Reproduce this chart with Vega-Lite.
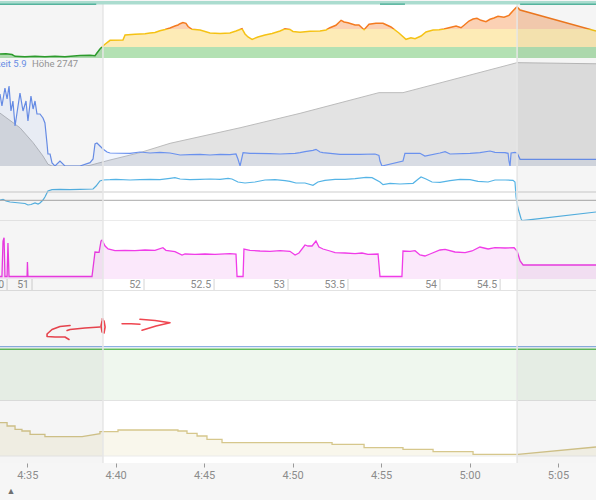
{
"$schema": "https://vega.github.io/schema/vega-lite/v6.json",
"background": "#f6f6f6",
"padding": 0,
"spacing": 0,
"bounds": "flush",
"config": {"view": {"stroke": null, "fill": "white"}, "font": "Roboto", "text": {"font": "Roboto"}},
"datasets": {
"shade": [{"t":33.46,"t2":39.28},{"t":62.69,"t2":67.15}],
"edges": [{"t":39.28},{"t":62.69}],
"tabs": [{"t":33.46,"t2":38.9},{"t":54.94,"t2":56.35},{"t":62.86,"t2":67.15}],
"hr": [
{"t":33.46,"bpm":109.6},{"t":33.8,"bpm":110.0},{"t":34.14,"bpm":108.9},{"t":34.31,"bpm":106.4},{"t":34.87,"bpm":105.8},{"t":35.44,"bpm":106.4},{"t":36.0,"bpm":105.8},{"t":36.57,"bpm":106.4},{"t":37.13,"bpm":105.8},{"t":37.98,"bpm":107.5},{"t":38.55,"bpm":107.8},{"t":38.83,"bpm":107.1},{"t":38.94,"bpm":111.0},{"t":39.11,"bpm":116.6},{"t":39.34,"bpm":122.2},{"t":39.68,"bpm":128.8},{"t":40.41,"bpm":129.3},{"t":40.53,"bpm":136.3},{"t":41.09,"bpm":137.3},{"t":41.66,"bpm":138.1},{"t":41.94,"bpm":139.1},{"t":42.22,"bpm":139.8},{"t":42.5,"bpm":142.3},{"t":42.79,"bpm":144.0},{"t":43.07,"bpm":146.1},{"t":43.35,"bpm":148.9},{"t":43.52,"bpm":150.3},{"t":43.64,"bpm":152.1},{"t":43.8,"bpm":153.8},{"t":43.97,"bpm":152.7},{"t":44.09,"bpm":148.2},{"t":44.31,"bpm":144.3},{"t":44.77,"bpm":143.3},{"t":45.33,"bpm":139.1},{"t":45.9,"bpm":138.4},{"t":46.46,"bpm":139.1},{"t":46.8,"bpm":141.9},{"t":47.14,"bpm":145.1},{"t":47.31,"bpm":137.7},{"t":47.48,"bpm":133.5},{"t":47.71,"bpm":130.2},{"t":48.04,"bpm":133.5},{"t":48.44,"bpm":136.3},{"t":48.84,"bpm":138.4},{"t":49.29,"bpm":141.9},{"t":49.57,"bpm":145.1},{"t":49.85,"bpm":144.0},{"t":50.02,"bpm":141.2},{"t":50.42,"bpm":140.1},{"t":50.98,"bpm":141.5},{"t":51.55,"bpm":141.9},{"t":51.89,"bpm":143.3},{"t":52.11,"bpm":146.5},{"t":52.45,"bpm":149.9},{"t":52.74,"bpm":156.9},{"t":52.91,"bpm":154.5},{"t":53.13,"bpm":153.5},{"t":53.53,"bpm":150.3},{"t":53.75,"bpm":150.3},{"t":54.04,"bpm":143.7},{"t":54.32,"bpm":151.3},{"t":54.71,"bpm":152.7},{"t":55.11,"bpm":152.7},{"t":55.56,"bpm":147.5},{"t":56.01,"bpm":139.1},{"t":56.41,"bpm":130.2},{"t":56.69,"bpm":132.5},{"t":56.92,"bpm":131.1},{"t":57.26,"bpm":134.9},{"t":57.54,"bpm":140.5},{"t":57.94,"bpm":143.3},{"t":58.28,"bpm":143.7},{"t":58.56,"bpm":144.7},{"t":58.84,"bpm":146.5},{"t":59.24,"bpm":148.9},{"t":59.52,"bpm":146.5},{"t":59.69,"bpm":149.9},{"t":59.97,"bpm":155.9},{"t":60.2,"bpm":158.7},{"t":60.42,"bpm":159.7},{"t":60.65,"bpm":156.9},{"t":60.93,"bpm":154.9},{"t":61.16,"bpm":158.3},{"t":61.38,"bpm":160.1},{"t":61.61,"bpm":162.5},{"t":61.95,"bpm":161.1},{"t":62.23,"bpm":163.9},{"t":62.46,"bpm":170.4},{"t":62.63,"bpm":174.6},{"t":62.69,"bpm":175.6},{"t":62.86,"bpm":171.4},{"t":67.15,"bpm":141.9}
],
"spd": [
{"t":33.46,"s":21.6},{"t":33.57,"s":18.0},{"t":33.74,"s":23.4},{"t":33.86,"s":20.1},{"t":33.97,"s":24.0},{"t":34.08,"s":16.5},{"t":34.19,"s":19.5},{"t":34.31,"s":12.0},{"t":34.42,"s":15.9},{"t":34.59,"s":21.9},{"t":34.76,"s":16.5},{"t":34.93,"s":19.5},{"t":35.04,"s":13.5},{"t":35.21,"s":21.0},{"t":35.33,"s":17.1},{"t":35.44,"s":19.5},{"t":35.55,"s":15.6},{"t":35.72,"s":15.6},{"t":35.89,"s":14.4},{"t":36.0,"s":12.9},{"t":36.12,"s":6.6},{"t":36.17,"s":3.6},{"t":36.29,"s":3.6},{"t":36.4,"s":0.9},{"t":36.57,"s":0},{"t":36.85,"s":1.5},{"t":37.13,"s":0},{"t":37.98,"s":0},{"t":38.55,"s":1.0},{"t":38.72,"s":2.1},{"t":38.83,"s":6.6},{"t":38.94,"s":6.9},{"t":39.11,"s":6.0},{"t":39.28,"s":5.1},{"t":39.51,"s":4.2},{"t":39.68,"s":3.9},{"t":40.81,"s":3.8},{"t":41.37,"s":4.2},{"t":41.94,"s":3.9},{"t":42.5,"s":4.1},{"t":43.07,"s":3.9},{"t":43.64,"s":3.3},{"t":44.2,"s":3.4},{"t":44.77,"s":3.5},{"t":45.33,"s":3.3},{"t":45.9,"s":3.5},{"t":46.46,"s":3.4},{"t":46.8,"s":3.6},{"t":46.91,"s":2.1},{"t":47.03,"s":0},{"t":47.2,"s":4.0},{"t":47.59,"s":3.8},{"t":48.72,"s":3.7},{"t":49.29,"s":3.6},{"t":50.14,"s":3.8},{"t":50.42,"s":4.0},{"t":50.7,"s":4.3},{"t":51.15,"s":4.7},{"t":51.32,"s":5.0},{"t":51.55,"s":4.2},{"t":51.72,"s":4.0},{"t":52.68,"s":3.5},{"t":53.81,"s":3.5},{"t":54.66,"s":3.6},{"t":54.88,"s":3.2},{"t":54.94,"s":1.5},{"t":55.05,"s":0},{"t":56.24,"s":1.5},{"t":56.35,"s":3.8},{"t":57.2,"s":3.8},{"t":57.48,"s":3.0},{"t":58.33,"s":3.9},{"t":58.62,"s":4.3},{"t":58.9,"s":3.6},{"t":60.03,"s":3.8},{"t":60.59,"s":4.0},{"t":61.16,"s":4.5},{"t":61.44,"s":4.1},{"t":62.01,"s":4.0},{"t":62.18,"s":3.8},{"t":62.23,"s":1.5},{"t":62.29,"s":0},{"t":62.35,"s":3.9},{"t":62.57,"s":4.1},{"t":62.69,"s":3.9},{"t":62.86,"s":2.0},{"t":67.15,"s":2.0}
],
"ele": [
{"t":33.46,"e":2518},{"t":34.59,"e":2452},{"t":35.33,"e":2385},{"t":35.89,"e":2325},{"t":36.17,"e":2288},{"t":36.4,"e":2280},{"t":38.26,"e":2280},{"t":38.55,"e":2283},{"t":39.11,"e":2295},{"t":39.68,"e":2307},{"t":41.37,"e":2340},{"t":43.07,"e":2382},{"t":47.03,"e":2452},{"t":50.42,"e":2517},{"t":54.88,"e":2610},{"t":56.24,"e":2610},{"t":62.69,"e":2745},{"t":67.15,"e":2740}
],
"cad": [
{"t":33.46,"v":42},{"t":33.63,"v":43.4},{"t":33.8,"v":40},{"t":34.03,"v":38},{"t":34.31,"v":37},{"t":34.59,"v":36},{"t":34.87,"v":35},{"t":35.04,"v":32},{"t":35.21,"v":33},{"t":35.44,"v":36},{"t":35.61,"v":34},{"t":35.72,"v":36},{"t":35.89,"v":42},{"t":36.0,"v":48},{"t":36.17,"v":60},{"t":36.4,"v":62.6},{"t":36.85,"v":63.4},{"t":37.42,"v":62.6},{"t":37.98,"v":63.4},{"t":38.72,"v":64},{"t":38.89,"v":70},{"t":39.11,"v":80},{"t":39.28,"v":82},{"t":39.68,"v":82.6},{"t":40.02,"v":83.4},{"t":40.81,"v":82},{"t":41.37,"v":82.6},{"t":41.94,"v":83.4},{"t":42.5,"v":82.6},{"t":43.07,"v":85.4},{"t":43.35,"v":86.6},{"t":43.64,"v":84},{"t":44.2,"v":82.6},{"t":44.77,"v":83.4},{"t":45.33,"v":84},{"t":45.9,"v":83.4},{"t":46.35,"v":85.4},{"t":46.57,"v":84},{"t":46.91,"v":78},{"t":47.31,"v":76},{"t":47.87,"v":78},{"t":48.44,"v":82},{"t":49.01,"v":82.6},{"t":49.57,"v":80.6},{"t":49.85,"v":79.4},{"t":50.19,"v":76},{"t":50.7,"v":76},{"t":51.15,"v":71.4},{"t":51.43,"v":78},{"t":51.83,"v":81.4},{"t":52.4,"v":83.4},{"t":52.96,"v":83.4},{"t":53.53,"v":84.6},{"t":54.15,"v":87.4},{"t":54.49,"v":86.6},{"t":54.94,"v":78},{"t":55.11,"v":72.6},{"t":55.51,"v":75.4},{"t":56.07,"v":74},{"t":56.81,"v":75.4},{"t":57.09,"v":83.4},{"t":57.26,"v":88},{"t":57.54,"v":84},{"t":57.88,"v":78},{"t":58.33,"v":77.4},{"t":58.9,"v":80.6},{"t":59.46,"v":83.4},{"t":60.03,"v":82.6},{"t":60.48,"v":79.4},{"t":61.05,"v":78},{"t":61.44,"v":82},{"t":62.01,"v":82},{"t":62.46,"v":81.4},{"t":62.57,"v":78},{"t":62.63,"v":48},{"t":62.74,"v":26},{"t":62.91,"v":5},{"t":62.97,"v":0.6},{"t":67.15,"v":18}
],
"pow": [
{"t":33.46,"p":0},{"t":33.57,"p":0},{"t":33.63,"p":177.5},{"t":33.69,"p":194},{"t":33.74,"p":0},{"t":33.86,"p":0},{"t":33.91,"p":167.5},{"t":33.97,"p":0},{"t":34.99,"p":0},{"t":35.01,"p":72.5},{"t":35.04,"p":0},{"t":38.66,"p":0},{"t":38.83,"p":122.5},{"t":39.06,"p":121},{"t":39.17,"p":177.5},{"t":39.23,"p":182.5},{"t":39.4,"p":152.5},{"t":39.57,"p":137.5},{"t":39.96,"p":129},{"t":40.53,"p":131},{"t":41.09,"p":129},{"t":41.66,"p":132.5},{"t":42.22,"p":131},{"t":42.67,"p":144},{"t":42.84,"p":131},{"t":43.35,"p":124},{"t":43.75,"p":107.5},{"t":43.92,"p":112.5},{"t":44.48,"p":111},{"t":45.05,"p":112.5},{"t":45.61,"p":111},{"t":46.46,"p":114},{"t":46.8,"p":112.5},{"t":46.86,"p":0},{"t":47.2,"p":0},{"t":47.25,"p":137.5},{"t":47.59,"p":131},{"t":48.16,"p":127.5},{"t":48.72,"p":126},{"t":49.29,"p":129},{"t":49.85,"p":126},{"t":50.14,"p":107.5},{"t":50.36,"p":117.5},{"t":50.7,"p":157.5},{"t":50.87,"p":152.5},{"t":51.1,"p":152.5},{"t":51.32,"p":177.5},{"t":51.49,"p":147.5},{"t":51.72,"p":137.5},{"t":52.11,"p":127.5},{"t":52.4,"p":119},{"t":52.96,"p":117.5},{"t":53.53,"p":114},{"t":53.92,"p":117.5},{"t":54.26,"p":111},{"t":54.83,"p":112.5},{"t":54.94,"p":0},{"t":56.18,"p":0},{"t":56.24,"p":127.5},{"t":56.64,"p":126},{"t":56.92,"p":129},{"t":57.2,"p":107.5},{"t":57.48,"p":102.5},{"t":57.77,"p":112.5},{"t":58.33,"p":132.5},{"t":58.62,"p":136},{"t":59.18,"p":122.5},{"t":59.75,"p":119},{"t":60.14,"p":127.5},{"t":60.59,"p":147.5},{"t":61.05,"p":137.5},{"t":61.44,"p":144},{"t":62.01,"p":142.5},{"t":62.52,"p":144},{"t":62.69,"p":127.5},{"t":62.86,"p":77.5},{"t":63.03,"p":57.5},{"t":67.15,"p":57.5}
],
"dist": [
{"t":33.86,"km":"50"},{"t":35.27,"km":"51"},{"t":41.6,"km":"52"},{"t":45.56,"km":"52.5"},{"t":49.74,"km":"53"},{"t":53.13,"km":"53.5"},{"t":58.33,"km":"54"},{"t":61.73,"km":"54.5"}
],
"scrib": [
{"s":1,"i":1,"t":39.11,"v":19},{"s":1,"i":2,"t":38.26,"v":18},{"s":1,"i":3,"t":37.42,"v":16.5},{"s":1,"i":4,"t":37.25,"v":15.5},
{"s":2,"i":1,"t":37.42,"v":20.5},{"s":2,"i":2,"t":36.85,"v":19.5},{"s":2,"i":3,"t":36.4,"v":16.5},{"s":2,"i":4,"t":36.12,"v":12},{"s":2,"i":5,"t":36.12,"v":9.5},{"s":2,"i":6,"t":36.57,"v":9},{"s":2,"i":7,"t":37.13,"v":9},{"s":2,"i":8,"t":37.36,"v":6.5},
{"s":3,"i":1,"t":39.23,"v":27},{"s":3,"i":2,"t":39.34,"v":25},{"s":3,"i":3,"t":39.4,"v":19},{"s":3,"i":4,"t":39.34,"v":13},{"s":3,"i":5,"t":39.23,"v":14},{"s":3,"i":6,"t":39.17,"v":20},{"s":3,"i":7,"t":39.23,"v":25},{"s":3,"i":8,"t":39.28,"v":27},
{"s":4,"i":1,"t":40.36,"v":22.3},{"s":4,"i":2,"t":40.87,"v":22.3},{"s":4,"i":3,"t":41.37,"v":21.7},
{"s":5,"i":1,"t":41.37,"v":26.7},{"s":5,"i":2,"t":42.22,"v":25.5},{"s":5,"i":3,"t":43.07,"v":23.3},{"s":5,"i":4,"t":42.28,"v":20},{"s":5,"i":5,"t":41.49,"v":15.7}
],
"temp": [
{"t":33.46,"T":6.66},{"t":33.86,"T":6.66},{"t":33.86,"T":6.0},{"t":34.31,"T":6.0},{"t":34.31,"T":5.34},{"t":34.7,"T":5.34},{"t":34.7,"T":5.0},{"t":35.16,"T":5.0},{"t":35.16,"T":4.34},{"t":36.0,"T":4.34},{"t":36.0,"T":3.86},{"t":38.1,"T":3.86},{"t":39.11,"T":4.46},{"t":39.11,"T":4.86},{"t":40.13,"T":4.86},{"t":40.13,"T":5.2},{"t":43.52,"T":5.2},{"t":43.52,"T":5.0},{"t":44.03,"T":5.0},{"t":44.03,"T":4.54},{"t":44.6,"T":4.54},{"t":44.6,"T":4.0},{"t":45.16,"T":4.0},{"t":45.16,"T":3.34},{"t":46.01,"T":3.34},{"t":46.01,"T":2.66},{"t":52.23,"T":2.66},{"t":52.23,"T":2.34},{"t":54.04,"T":2.34},{"t":54.04,"T":1.66},{"t":56.24,"T":1.66},{"t":56.24,"T":1.34},{"t":57.94,"T":1.34},{"t":57.94,"T":0.86},{"t":60.2,"T":0.86},{"t":60.2,"T":0.34},{"t":62.74,"T":0.34},{"t":67.15,"T":1.8}
]
},
"vconcat": [
{
"width": 596, "height": 57,
"layer": [
{"data": {"name": "hr"}, "mark": {"type": "area", "clip": true, "fill": {"gradient": "linear", "x1": 0, "x2": 0, "y1": 0, "y2": 1, "stops": [{"offset": 0, "color": "#fbd1b4"}, {"offset": 0.4255, "color": "#fbd1b4"}, {"offset": 0.4255, "color": "#fdebb6"}, {"offset": 0.778, "color": "#fdebb6"}, {"offset": 0.778, "color": "#b3e1b3"}, {"offset": 1, "color": "#b3e1b3"}]}}, "encoding": {"x": {"field": "t", "type": "quantitative", "scale": {"domain": [33.46, 67.15], "nice": false, "zero": false}, "axis": null}, "y": {"field": "bpm", "type": "quantitative", "scale": {"domain": [104, 184], "nice": false, "zero": false}, "axis": null}, "y2": {"datum": 104}}},
{"data": {"name": "hr"}, "mark": {"type": "line", "clip": true, "strokeWidth": 1.5, "stroke": {"gradient": "linear", "x1": 0, "x2": 0, "y1": 0, "y2": 1, "stops": [{"offset": 0, "color": "#f47b20"}, {"offset": 0.437, "color": "#f47b20"}, {"offset": 0.437, "color": "#f5c214"}, {"offset": 0.799, "color": "#f5c214"}, {"offset": 0.799, "color": "#2ea12e"}, {"offset": 1, "color": "#2ea12e"}]}}, "encoding": {"x": {"field": "t", "type": "quantitative"}, "y": {"field": "bpm", "type": "quantitative"}}},
{"data": {"name": "shade"}, "mark": {"type": "rect", "fill": "#000000", "fillOpacity": 0.04}, "encoding": {"x": {"field": "t", "type": "quantitative"}, "x2": {"field": "t2"}, "y": {"datum": 184}, "y2": {"datum": 104}}},
{"data": {"name": "edges"}, "mark": {"type": "rule", "color": "#e6e6e6", "strokeWidth": 1.5}, "encoding": {"x": {"field": "t", "type": "quantitative"}, "y": {"datum": 184}, "y2": {"datum": 104}}},
{"data": {"values": [{"t": 33.46, "t2": 67.15}]}, "mark": {"type": "rect", "fill": "#abdccf"}, "encoding": {"x": {"field": "t", "type": "quantitative"}, "x2": {"field": "t2"}, "y": {"datum": 184}, "y2": {"datum": 179.1}}},
{"data": {"name": "tabs"}, "mark": {"type": "rule", "clip": true, "color": "#55b39d", "strokeWidth": 1.5}, "encoding": {"x": {"field": "t", "type": "quantitative"}, "x2": {"field": "t2"}, "y": {"datum": 179.6}}}
]
},
{
"width": 596, "height": 108,
"layer": [
{"layer": [
{"data": {"name": "ele"}, "mark": {"type": "area", "clip": true, "fill": "#e3e3e3"}, "encoding": {"x": {"field": "t", "type": "quantitative", "scale": {"domain": [33.46, 67.15], "nice": false, "zero": false}, "axis": null}, "y": {"field": "e", "type": "quantitative", "scale": {"domain": [2280, 2766], "nice": false, "zero": false}, "axis": null}, "y2": {"datum": 2280}}},
{"data": {"name": "ele"}, "mark": {"type": "line", "clip": true, "stroke": "#bcbcbc", "strokeWidth": 1}, "encoding": {"x": {"field": "t", "type": "quantitative"}, "y": {"field": "e", "type": "quantitative"}}},
{"data": {"values": [{"t": 34.96, "e": 2739}]}, "mark": {"type": "text", "text": "Geschwindigkeit 5.9", "align": "right", "baseline": "middle", "color": "#6d93ee", "fontSize": 9.5, "clip": true}, "encoding": {"x": {"field": "t", "type": "quantitative"}, "y": {"field": "e", "type": "quantitative"}}},
{"data": {"values": [{"t": 35.27, "e": 2739}]}, "mark": {"type": "text", "text": "Höhe 2747", "align": "left", "baseline": "middle", "color": "#9a9a9a", "fontSize": 9.5}, "encoding": {"x": {"field": "t", "type": "quantitative"}, "y": {"field": "e", "type": "quantitative"}}}
]},
{"layer": [
{"data": {"name": "spd"}, "mark": {"type": "area", "clip": true, "fill": "#6f96ef", "fillOpacity": 0.09}, "encoding": {"x": {"field": "t", "type": "quantitative"}, "y": {"field": "s", "type": "quantitative", "scale": {"domain": [0, 32.4], "nice": false, "zero": false}, "axis": null}, "y2": {"datum": 0}}},
{"data": {"name": "spd"}, "mark": {"type": "line", "clip": true, "stroke": "#6a91ee", "strokeWidth": 1.2}, "encoding": {"x": {"field": "t", "type": "quantitative"}, "y": {"field": "s", "type": "quantitative"}}},
{"data": {"name": "shade"}, "mark": {"type": "rect", "fill": "#000000", "fillOpacity": 0.04}, "encoding": {"x": {"field": "t", "type": "quantitative"}, "x2": {"field": "t2"}, "y": {"datum": 32.4}, "y2": {"datum": 0}}},
{"data": {"name": "edges"}, "mark": {"type": "rule", "color": "#e6e6e6", "strokeWidth": 1.5}, "encoding": {"x": {"field": "t", "type": "quantitative"}, "y": {"datum": 32.4}, "y2": {"datum": 0}}}
]}
],
"resolve": {"scale": {"y": "independent"}}
},
{
"width": 596, "height": 55,
"layer": [
{"data": {"name": "cad"}, "mark": {"type": "line", "clip": true, "stroke": "#55b4e6", "strokeWidth": 1.2}, "encoding": {"x": {"field": "t", "type": "quantitative", "scale": {"domain": [33.46, 67.15], "nice": false, "zero": false}, "axis": null}, "y": {"field": "v", "type": "quantitative", "scale": {"domain": [0, 110], "nice": false, "zero": false}, "axis": null}}},
{"data": {"values": [{"t": 33.46, "t2": 67.15, "v": 58}]}, "mark": {"type": "rule", "clip": true, "color": "#cdcdcd", "strokeWidth": 1}, "encoding": {"x": {"field": "t", "type": "quantitative"}, "x2": {"field": "t2"}, "y": {"field": "v", "type": "quantitative"}}},
{"data": {"values": [{"t": 33.46, "t2": 67.15, "v": 41.4}]}, "mark": {"type": "rule", "clip": true, "color": "#a9a9a9", "strokeWidth": 1}, "encoding": {"x": {"field": "t", "type": "quantitative"}, "x2": {"field": "t2"}, "y": {"field": "v", "type": "quantitative"}}},
{"data": {"values": [{"t": 33.46, "t2": 67.15, "v": 0.5}]}, "mark": {"type": "rule", "clip": true, "color": "#e4e4e4", "strokeWidth": 1}, "encoding": {"x": {"field": "t", "type": "quantitative"}, "x2": {"field": "t2"}, "y": {"field": "v", "type": "quantitative"}}},
{"data": {"name": "shade"}, "mark": {"type": "rect", "fill": "#000000", "fillOpacity": 0.04}, "encoding": {"x": {"field": "t", "type": "quantitative"}, "x2": {"field": "t2"}, "y": {"datum": 110}, "y2": {"datum": 0}}},
{"data": {"name": "edges"}, "mark": {"type": "rule", "color": "#e6e6e6", "strokeWidth": 1.5}, "encoding": {"x": {"field": "t", "type": "quantitative"}, "y": {"datum": 110}, "y2": {"datum": 0}}}
]
},
{
"width": 596, "height": 58,
"layer": [
{"data": {"name": "pow"}, "mark": {"type": "area", "clip": true, "fill": "#fbe8fb"}, "encoding": {"x": {"field": "t", "type": "quantitative", "scale": {"domain": [33.46, 67.15], "nice": false, "zero": false}, "axis": null}, "y": {"field": "p", "type": "quantitative", "scale": {"domain": [-12.5, 277.5], "nice": false, "zero": false}, "axis": null}, "y2": {"datum": -12.5}}},
{"data": {"name": "pow"}, "mark": {"type": "line", "clip": true, "stroke": "#f03ce8", "strokeWidth": 1.3}, "encoding": {"x": {"field": "t", "type": "quantitative"}, "y": {"field": "p", "type": "quantitative"}}},
{"data": {"name": "shade"}, "mark": {"type": "rect", "fill": "#000000", "fillOpacity": 0.04}, "encoding": {"x": {"field": "t", "type": "quantitative"}, "x2": {"field": "t2"}, "y": {"datum": 277.5}, "y2": {"datum": -12.5}}},
{"data": {"name": "edges"}, "mark": {"type": "rule", "color": "#e6e6e6", "strokeWidth": 1.5}, "encoding": {"x": {"field": "t", "type": "quantitative"}, "y": {"datum": 277.5}, "y2": {"datum": -12.5}}}
]
},
{
"width": 596, "height": 12,
"layer": [
{"data": {"name": "dist"}, "mark": {"type": "text", "align": "right", "dx": -3, "baseline": "middle", "fontSize": 10.5, "color": "#8a8a8a", "clip": true}, "encoding": {"x": {"field": "t", "type": "quantitative", "scale": {"domain": [33.46, 67.15], "nice": false, "zero": false}, "axis": null}, "y": {"datum": 0.5, "type": "quantitative", "scale": {"domain": [0, 1], "nice": false, "zero": false}, "axis": null}, "text": {"field": "km", "type": "nominal"}}},
{"data": {"name": "dist"}, "mark": {"type": "rule", "color": "#d4d4d4", "strokeWidth": 1}, "encoding": {"x": {"field": "t", "type": "quantitative"}, "y": {"datum": 1}, "y2": {"datum": 0}}},
{"data": {"values": [{"t": 33.46, "t2": 67.15}]}, "mark": {"type": "rule", "clip": true, "color": "#e2e2e2", "strokeWidth": 1}, "encoding": {"x": {"field": "t", "type": "quantitative"}, "x2": {"field": "t2"}, "y": {"datum": 0.04}}},
{"data": {"name": "shade"}, "mark": {"type": "rect", "fill": "#000000", "fillOpacity": 0.04}, "encoding": {"x": {"field": "t", "type": "quantitative"}, "x2": {"field": "t2"}, "y": {"datum": 1}, "y2": {"datum": 0}}},
{"data": {"name": "edges"}, "mark": {"type": "rule", "color": "#e6e6e6", "strokeWidth": 1.5}, "encoding": {"x": {"field": "t", "type": "quantitative"}, "y": {"datum": 1}, "y2": {"datum": 0}}}
]
},
{
"width": 596, "height": 55,
"layer": [
{"data": {"name": "scrib"}, "mark": {"type": "line", "stroke": "#ef4650", "strokeWidth": 1.6, "strokeCap": "round", "strokeJoin": "round"}, "encoding": {"x": {"field": "t", "type": "quantitative", "scale": {"domain": [33.46, 67.15], "nice": false, "zero": false}, "axis": null}, "y": {"field": "v", "type": "quantitative", "scale": {"domain": [0, 55], "nice": false, "zero": false}, "axis": null}, "detail": {"field": "s", "type": "nominal"}, "order": {"field": "i", "type": "quantitative"}}},
{"data": {"name": "shade"}, "mark": {"type": "rect", "fill": "#000000", "fillOpacity": 0.04}, "encoding": {"x": {"field": "t", "type": "quantitative"}, "x2": {"field": "t2"}, "y": {"datum": 55}, "y2": {"datum": 0}}},
{"data": {"name": "edges"}, "mark": {"type": "rule", "color": "#e6e6e6", "strokeWidth": 1.5}, "encoding": {"x": {"field": "t", "type": "quantitative"}, "y": {"datum": 55}, "y2": {"datum": 0}}}
]
},
{
"width": 596, "height": 55,
"layer": [
{"data": {"values": [{"t": 33.46, "t2": 67.15}]}, "mark": {"type": "rect", "fill": "#eff7ee"}, "encoding": {"x": {"field": "t", "type": "quantitative", "scale": {"domain": [33.46, 67.15], "nice": false, "zero": false}, "axis": null}, "x2": {"field": "t2"}, "y": {"datum": 0, "type": "quantitative", "scale": {"domain": [0, 55], "nice": false, "zero": false}, "axis": null}, "y2": {"datum": 51.7}}},
{"data": {"values": [{"t": 33.46, "t2": 67.15}]}, "mark": {"type": "rule", "clip": true, "color": "#62bd5f", "strokeWidth": 1.5}, "encoding": {"x": {"field": "t", "type": "quantitative"}, "x2": {"field": "t2"}, "y": {"datum": 51.7}}},
{"data": {"values": [{"t": 33.46, "t2": 67.15}]}, "mark": {"type": "rule", "clip": true, "color": "#8db0e3", "strokeWidth": 1.3}, "encoding": {"x": {"field": "t", "type": "quantitative"}, "x2": {"field": "t2"}, "y": {"datum": 54.4}}},
{"data": {"values": [{"t": 33.46, "t2": 67.15}]}, "mark": {"type": "rule", "clip": true, "color": "#e0e0e0", "strokeWidth": 1}, "encoding": {"x": {"field": "t", "type": "quantitative"}, "x2": {"field": "t2"}, "y": {"datum": 0.4}}},
{"data": {"name": "shade"}, "mark": {"type": "rect", "fill": "#000000", "fillOpacity": 0.04}, "encoding": {"x": {"field": "t", "type": "quantitative"}, "x2": {"field": "t2"}, "y": {"datum": 55}, "y2": {"datum": 0}}},
{"data": {"name": "edges"}, "mark": {"type": "rule", "color": "#e6e6e6", "strokeWidth": 1.5}, "encoding": {"x": {"field": "t", "type": "quantitative"}, "y": {"datum": 55}, "y2": {"datum": 0}}}
]
},
{
"width": 596, "height": 62,
"layer": [
{"data": {"name": "temp"}, "mark": {"type": "area", "clip": true, "fill": "#eee7c8", "fillOpacity": 0.35}, "encoding": {"x": {"field": "t", "type": "quantitative", "scale": {"domain": [33.46, 67.15], "nice": false, "zero": false}, "axis": {"values": [35, 40, 45, 50, 55, 60, 65], "labelExpr": "(4 + floor(datum.value / 60)) + ':' + (datum.value % 60 < 10 ? '0' : '') + (datum.value % 60)", "domain": false, "grid": false, "ticks": true, "tickSize": 4, "tickColor": "#9a9a9a", "labelColor": "#8c8c8c", "labelFontSize": 11, "labelFont": "Roboto", "labelPadding": 2, "title": null}}, "y": {"field": "T", "type": "quantitative", "scale": {"domain": [-1.4, 11], "nice": false, "zero": false}, "axis": null}, "y2": {"datum": 0}}},
{"data": {"values": [{"t": 33.46, "t2": 67.15}]}, "mark": {"type": "rule", "clip": true, "color": "#ebebeb", "strokeWidth": 1}, "encoding": {"x": {"field": "t", "type": "quantitative"}, "x2": {"field": "t2"}, "y": {"datum": 0}}},
{"data": {"name": "temp"}, "mark": {"type": "line", "clip": true, "stroke": "#d6c78c", "strokeWidth": 1.3}, "encoding": {"x": {"field": "t", "type": "quantitative"}, "y": {"field": "T", "type": "quantitative"}}},
{"data": {"name": "shade"}, "mark": {"type": "rect", "fill": "#000000", "fillOpacity": 0.04}, "encoding": {"x": {"field": "t", "type": "quantitative"}, "x2": {"field": "t2"}, "y": {"datum": 11}, "y2": {"datum": -1.4}}},
{"data": {"name": "edges"}, "mark": {"type": "rule", "color": "#e6e6e6", "strokeWidth": 1.5}, "encoding": {"x": {"field": "t", "type": "quantitative"}, "y": {"datum": 11}, "y2": {"datum": -1.4}}}
]
},
{
"width": 596, "height": 38,
"view": {"fill": "transparent", "stroke": null},
"data": {"values": [{"t": 34.08, "v": 10}]},
"mark": {"type": "text", "text": "▲", "fontSize": 9, "color": "#707070", "baseline": "middle"},
"encoding": {
"x": {"field": "t", "type": "quantitative", "scale": {"domain": [33.46, 67.15], "nice": false, "zero": false}, "axis": null},
"y": {"field": "v", "type": "quantitative", "scale": {"domain": [0, 38], "nice": false, "zero": false}, "axis": null}
}
}
]
}
